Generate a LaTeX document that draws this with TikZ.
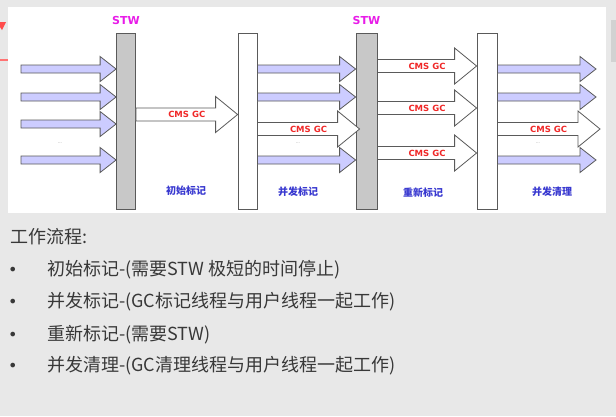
\documentclass[tikz,border=0pt]{standalone}
\usepackage{fontspec}
\usetikzlibrary{calc}
\newfontfamily\cjk{Noto Sans CJK SC}
\newfontfamily\lab{DejaVu Sans}
\definecolor{userfill}{HTML}{CCCCFF}
\definecolor{edge}{HTML}{5A5A5A}
\definecolor{barfill}{HTML}{C8C8C8}
\definecolor{stwpink}{HTML}{E81CE8}
\definecolor{gcred}{HTML}{F02828}
\definecolor{stageblue}{HTML}{3838D0}
\definecolor{pagegray}{HTML}{E8E8E8}
\definecolor{textgray}{HTML}{383838}

% fat arrow of a user thread, from #1 to the tip #2
\newcommand{\userarrow}[2]{%
\draw[userthread] ($(#1)+(0,-4)$) -- ($(#2)+(-16,-4)$) -- ($(#2)+(-16,-12.5)$) -- (#2) -- ($(#2)+(-16,12.5)$) -- ($(#2)+(-16,4)$) -- ($(#1)+(0,4)$) -- cycle;}
% fat arrow of the CMS GC thread, #3 names its label
\newcommand{\gcarrow}[3]{%
\draw[gcthread] ($(#1)+(0,-6.5)$) -- ($(#2)+(-22,-6.5)$) -- ($(#2)+(-22,-18)$) -- (#2) -- ($(#2)+(-22,18)$) -- ($(#2)+(-22,6.5)$) -- ($(#1)+(0,6.5)$) -- cycle;
\node[gclabel] (#3) at ($(#1)!.5!(#2)$) {CMS GC};}

\begin{document}
\begin{tikzpicture}[x=1pt,y=-1pt,
  userthread/.style={draw=edge,fill=userfill,line width=0.8pt,line join=miter},
  gcthread/.style={draw=edge,fill=white,line width=0.8pt,line join=miter},
  stwbar/.style={draw=edge,fill=barfill,line width=0.8pt,inner sep=0,minimum height=176,minimum width=19},
  markbar/.style={draw=edge,fill=white,line width=0.8pt,inner sep=0,minimum height=176,minimum width=19},
  gclabel/.style={font=\lab\bfseries\fontsize{8.5}{10}\selectfont,text=gcred,inner sep=0},
  stwlabel/.style={font=\lab\bfseries\fontsize{11}{13}\selectfont,text=stwpink,inner sep=0},
  stagelabel/.style={font=\cjk\bfseries\fontsize{10}{12}\selectfont,text=stageblue,inner sep=0},
  dots/.style={font=\lab\fontsize{4}{4}\selectfont,text=gray,inner sep=0},
  flow/.style={font=\cjk\fontsize{18}{20}\selectfont,text=textgray,inner sep=0,anchor=west}]
\useasboundingbox (0,0) rectangle (616,416);
\fill[pagegray] (0,0) rectangle (616,416);
\fill[white] (8,7) rectangle (606,213);
\fill[red!70] (0,22) -- (6,22) -- (2,30) -- (0,27) -- cycle;
\draw[red!55,line width=1.2pt] (0,60) -- (8,60);
\fill[gray!35] (611,20) rectangle (616,62);

% bars
\node[stwbar] (stw1) at (126,121.5) {};
\node[markbar] (mark1) at (247.5,121) {};
\node[stwbar,minimum width=21] (stw2) at (366.5,121) {};
\node[markbar,minimum width=20] (mark2) at (487,121.5) {};

% rows
\coordinate (r1) at (0,69);
\coordinate (r2) at (0,97);
\coordinate (r3) at (0,124);
\coordinate (r4) at (0,160);
\coordinate (m) at (0,114.5);
\coordinate (c) at (0,129);
\coordinate (s1) at (0,66);
\coordinate (s2) at (0,108);
\coordinate (s3) at (0,153);
\coordinate (in) at (21,0);
\coordinate (out) at (596,0);
\coordinate (far) at (600,0);
\coordinate (over) at ($(stw2.west)+(4,0)$);

\foreach \r in {r1,r2,r3,r4} \userarrow{in |- \r}{stw1.west |- \r};
\gcarrow{stw1.east |- m}{mark1.west |- m}{gc1}

\foreach \r in {r1,r2,r4} \userarrow{mark1.east |- \r}{stw2.west |- \r};
\gcarrow{mark1.east |- c}{over |- c}{gc2}

\gcarrow{stw2.east |- s1}{mark2.west |- s1}{gc3}
\gcarrow{stw2.east |- s2}{mark2.west |- s2}{gc4}
\gcarrow{stw2.east |- s3}{mark2.west |- s3}{gc5}

\foreach \r in {r1,r2,r4} \userarrow{mark2.east |- \r}{out |- \r};
\gcarrow{mark2.east |- c}{far |- c}{gc6}

\node[stwlabel] (stwtext1) at ($(stw1.north)+(0,-13)$) {STW};
\node[stwlabel] (stwtext2) at ($(stw2.north)+(0,-12)$) {STW};

\node[dots] (dots1) at (60,143) {...};
\node[dots] (dots2) at (298,143) {...};
\node[dots] (dots3) at (538,143) {...};

\node[stagelabel] (stage1) at (186,191) {初始标记};
\node[stagelabel] (stage2) at (298,192) {并发标记};
\node[stagelabel] (stage3) at (423,193) {重新标记};
\node[stagelabel] (stage4) at (552,192) {并发清理};

% work flow
\node[flow] (title) at (10,237) {工作流程:};
\foreach \y/\t [count=\i] in {270/初始标记-(需要STW 极短的时间停止),
  302/并发标记-(GC标记线程与用户线程一起工作),
  335/重新标记-(需要STW),
  366/并发清理-(GC清理线程与用户线程一起工作)} {
  \node[flow,font=\lab\fontsize{16}{16}\selectfont] (bullet\i) at (8,\y+1) {•};
  \node[flow] (step\i) at (47,\y) {\t};
}
\end{tikzpicture}
\end{document}
